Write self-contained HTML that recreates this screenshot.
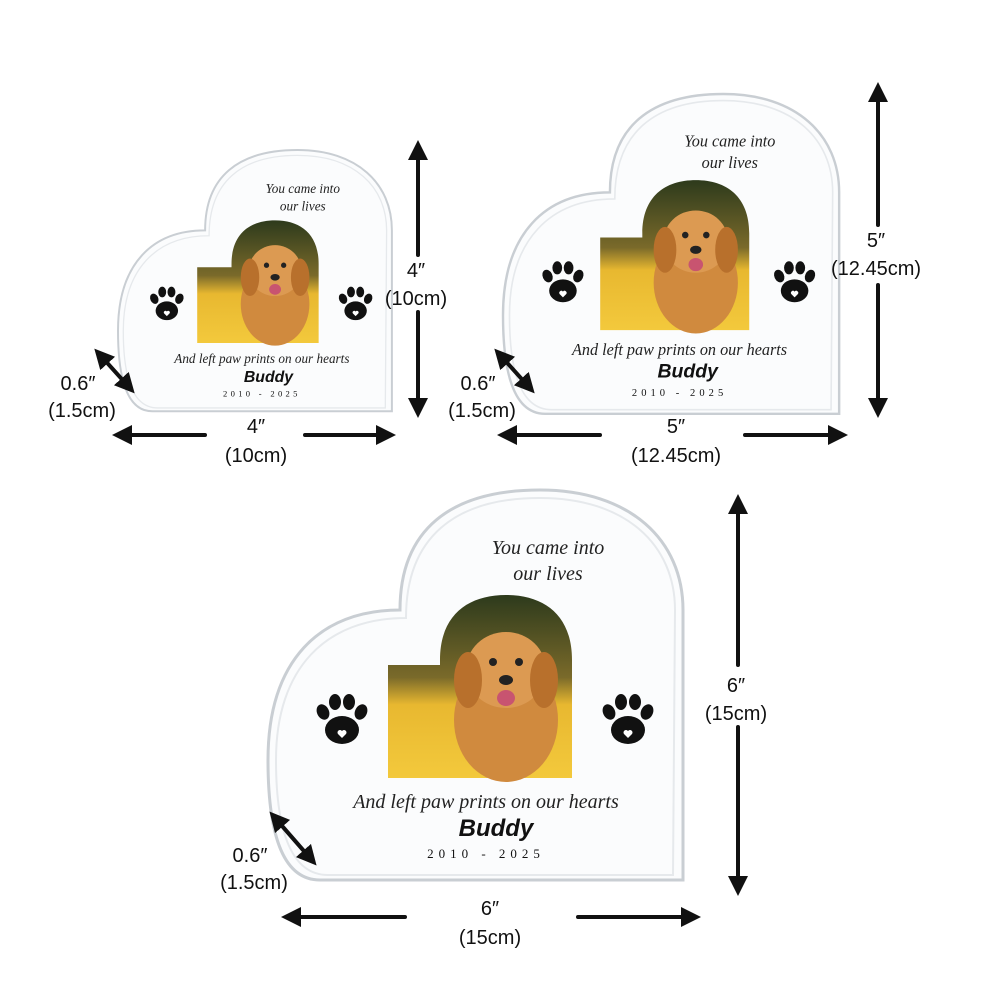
<!DOCTYPE html>
<html><head><meta charset="utf-8"><style>
html,body{margin:0;padding:0;background:#fff}
svg{display:block}
.l{font-family:"Liberation Sans",sans-serif;font-size:20px;fill:#111;text-anchor:middle}
.s{font-family:"Liberation Serif",serif;font-style:italic;fill:#222;text-anchor:middle}
</style></head><body>
<svg width="1000" height="1000" viewBox="0 0 1000 1000" xmlns="http://www.w3.org/2000/svg">
<defs>
<marker id="a" viewBox="0 0 10 10" refX="5" refY="5" markerWidth="5" markerHeight="5" orient="auto-start-reverse"><path d="M0,0 L10,5 L0,10 z" fill="#111"/></marker>
<g id="paw">
 <ellipse cx="0" cy="8" rx="17" ry="14" fill="#111"/>
 <ellipse cx="-19" cy="-10" rx="6" ry="8" fill="#111" transform="rotate(-25 -19 -10)"/>
 <ellipse cx="-7" cy="-20" rx="6" ry="8" fill="#111"/>
 <ellipse cx="7" cy="-20" rx="6" ry="8" fill="#111"/>
 <ellipse cx="19" cy="-10" rx="6" ry="8" fill="#111" transform="rotate(25 19 -10)"/>
 <path d="M0,16 l-4,-4 a2.5,2.5 0 0 1 4,-3 a2.5,2.5 0 0 1 4,3 z" fill="#fff"/>
</g>
<linearGradient id="ph" x1="0" y1="0" x2="0" y2="1">
 <stop offset="0" stop-color="#2d3a1c"/><stop offset="0.45" stop-color="#7a6a2a"/><stop offset="0.6" stop-color="#e8b830"/><stop offset="1" stop-color="#f3c93c"/>
</linearGradient>
<g id="heart">
 <path d="M415,390 L52,390 C17,390 0,350 0,270 C0,170 52,120 132,120 C132,40 182,0 272,0 C362,0 415,50 415,120 Z" fill="#fbfcfd" stroke="#c9ced3" stroke-width="3"/>
 <path d="M405,385 L60,385 C25,385 8,345 8,270 C8,178 58,128 138,128 C138,48 186,8 272,8 C358,8 407,55 407,120 Z" fill="none" stroke="#e6e9ec" stroke-width="2"/>
 <text class="s" x="280" y="64" font-size="20">You came into</text>
 <text class="s" x="280" y="90" font-size="20">our lives</text>
 <path d="M120,288 L120,175 L172,175 L172,170 C172,125 200,105 238,105 C276,105 304,125 304,170 L304,288 Z" fill="url(#ph)"/>
 <ellipse cx="238" cy="230" rx="52" ry="62" fill="#d08a3e"/>
 <ellipse cx="238" cy="180" rx="40" ry="38" fill="#dc9a52"/>
 <ellipse cx="200" cy="190" rx="14" ry="28" fill="#b8702c"/>
 <ellipse cx="276" cy="190" rx="14" ry="28" fill="#b8702c"/>
 <circle cx="225" cy="172" r="4" fill="#222"/><circle cx="251" cy="172" r="4" fill="#222"/>
 <ellipse cx="238" cy="190" rx="7" ry="5" fill="#222"/>
 <ellipse cx="238" cy="208" rx="9" ry="8" fill="#c85470"/>
 <use href="#paw" x="74" y="232"/>
 <use href="#paw" x="360" y="232"/>
 <text class="s" x="218" y="318" font-size="20">And left paw prints on our hearts</text>
 <text x="228" y="346" font-family="Liberation Sans,sans-serif" font-weight="bold" font-style="italic" font-size="24" fill="#111" text-anchor="middle">Buddy</text>
 <text x="218" y="368" font-family="Liberation Serif,serif" font-size="13" letter-spacing="5" fill="#111" text-anchor="middle">2010 - 2025</text>
</g>
</defs>
<use href="#heart" transform="translate(118,150) scale(0.66,0.67)"/>
<use href="#heart" transform="translate(503,94) scale(0.81,0.82)"/>
<use href="#heart" transform="translate(268,490)"/>

<g stroke="#111" stroke-width="4" fill="none" stroke-linecap="round">
 <line x1="418" y1="150" x2="418" y2="255" marker-start="url(#a)"/>
 <line x1="418" y1="312" x2="418" y2="408" marker-end="url(#a)"/>
 <line x1="122" y1="435" x2="205" y2="435" marker-start="url(#a)"/>
 <line x1="305" y1="435" x2="386" y2="435" marker-end="url(#a)"/>
 <line x1="101" y1="356" x2="128" y2="386" marker-start="url(#a)" marker-end="url(#a)"/>

 <line x1="878" y1="92" x2="878" y2="225" marker-start="url(#a)"/>
 <line x1="878" y1="285" x2="878" y2="408" marker-end="url(#a)"/>
 <line x1="507" y1="435" x2="600" y2="435" marker-start="url(#a)"/>
 <line x1="745" y1="435" x2="838" y2="435" marker-end="url(#a)"/>
 <line x1="501" y1="356" x2="528" y2="386" marker-start="url(#a)" marker-end="url(#a)"/>

 <line x1="738" y1="504" x2="738" y2="665" marker-start="url(#a)"/>
 <line x1="738" y1="727" x2="738" y2="886" marker-end="url(#a)"/>
 <line x1="291" y1="917" x2="405" y2="917" marker-start="url(#a)"/>
 <line x1="578" y1="917" x2="691" y2="917" marker-end="url(#a)"/>
 <line x1="276" y1="819" x2="310" y2="858" marker-start="url(#a)" marker-end="url(#a)"/>
</g>

<text class="l" x="416" y="277">4″</text><text class="l" x="416" y="305">(10cm)</text>
<text class="l" x="256" y="433">4″</text><text class="l" x="256" y="462">(10cm)</text>
<text class="l" x="78" y="390">0.6″</text><text class="l" x="82" y="417">(1.5cm)</text>

<text class="l" x="876" y="247">5″</text><text class="l" x="876" y="275">(12.45cm)</text>
<text class="l" x="676" y="433">5″</text><text class="l" x="676" y="462">(12.45cm)</text>
<text class="l" x="478" y="390">0.6″</text><text class="l" x="482" y="417">(1.5cm)</text>

<text class="l" x="736" y="692">6″</text><text class="l" x="736" y="720">(15cm)</text>
<text class="l" x="490" y="915">6″</text><text class="l" x="490" y="944">(15cm)</text>
<text class="l" x="250" y="862">0.6″</text><text class="l" x="254" y="889">(1.5cm)</text>
</svg>
</body></html>
